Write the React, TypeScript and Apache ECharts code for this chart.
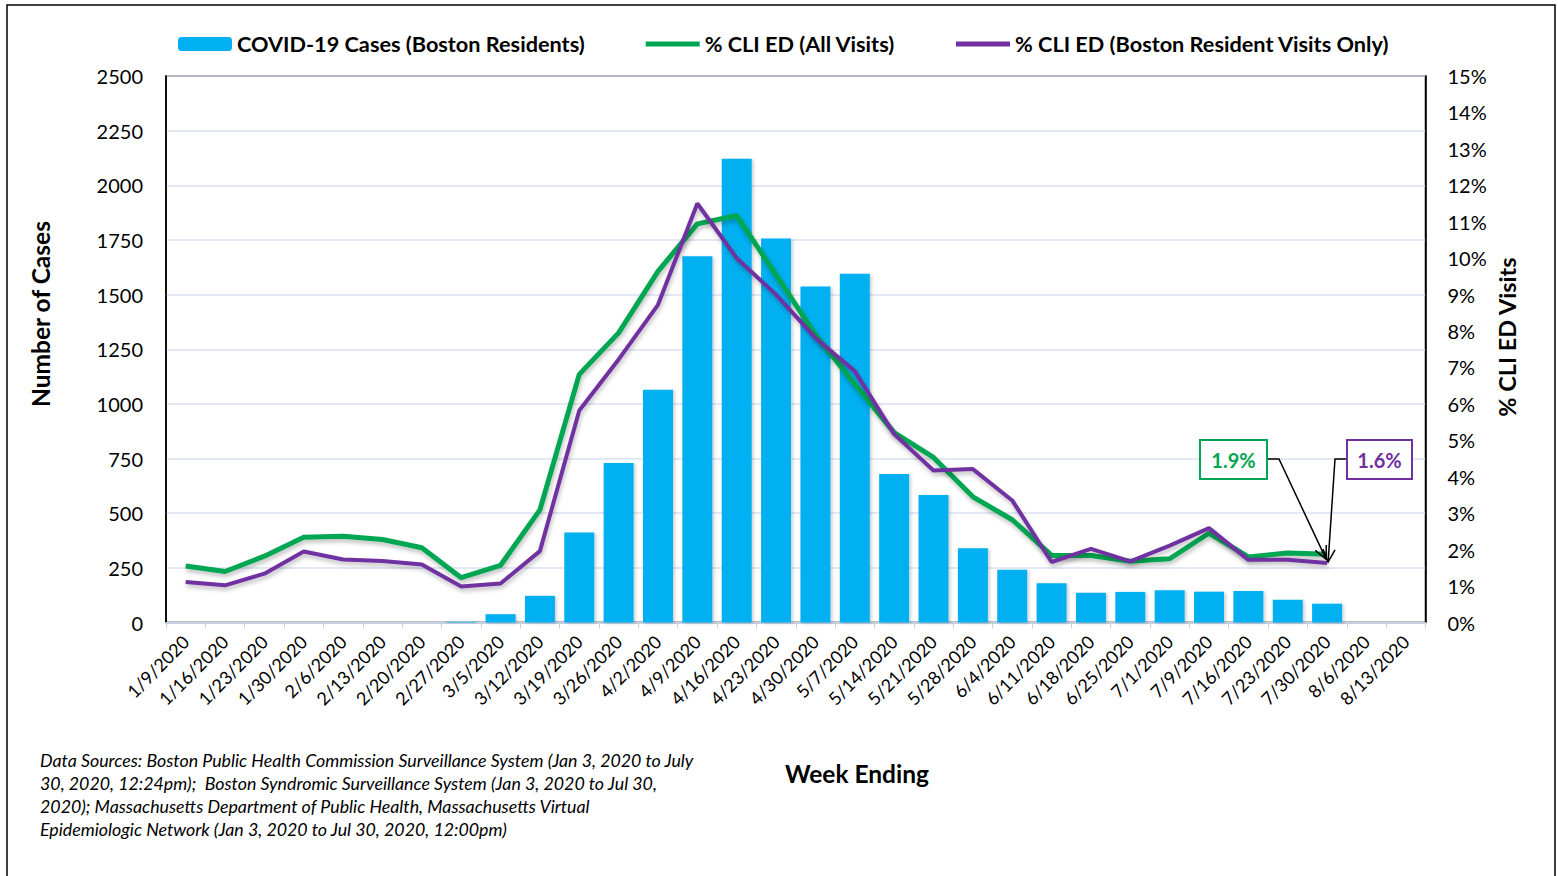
import React, { useEffect, useRef } from "react";
import * as echarts from "echarts";

const categories = [
  "1/9/2020", "1/16/2020", "1/23/2020", "1/30/2020", "2/6/2020", "2/13/2020", "2/20/2020", "2/27/2020",
  "3/5/2020", "3/12/2020", "3/19/2020", "3/26/2020", "4/2/2020", "4/9/2020", "4/16/2020", "4/23/2020",
  "4/30/2020", "5/7/2020", "5/14/2020", "5/21/2020", "5/28/2020", "6/4/2020", "6/11/2020", "6/18/2020",
  "6/25/2020", "7/1/2020", "7/9/2020", "7/16/2020", "7/23/2020", "7/30/2020", "8/6/2020", "8/13/2020",
];

const cases = [
  0, 0, 0, 0, 0, 0, 0, 3, 38, 122, 412, 730, 1065, 1675, 2122, 1757,
  1537, 1595, 679, 583, 340, 241, 179, 136, 140, 147, 141, 144, 104, 86, null, null,
];

const cliAll = [
  1.55, 1.4, 1.82, 2.34, 2.37, 2.28, 2.05, 1.23, 1.57, 3.09, 6.81, 7.95, 9.64, 10.94, 11.17, 9.54,
  7.9, 6.54, 5.21, 4.53, 3.45, 2.82, 1.84, 1.84, 1.68, 1.75, 2.45, 1.8, 1.91, 1.87, null, null,
];

const cliBoston = [
  1.11, 1.02, 1.34, 1.95, 1.73, 1.69, 1.59, 0.99, 1.07, 1.96, 5.82, 7.22, 8.72, 11.5, 10.0, 9.0,
  7.81, 6.9, 5.17, 4.17, 4.21, 3.35, 1.66, 2.02, 1.68, 2.11, 2.59, 1.72, 1.72, 1.63, null, null,
];

const seriesNames = [
  "COVID-19 Cases (Boston Residents)",
  "% CLI ED (All Visits)",
  "% CLI ED (Boston Resident Visits Only)",
];

const annotationAll = "1.9%";
const annotationBoston = "1.6%";

const sourceLines = [
  "Data Sources: Boston Public Health Commission Surveillance System (Jan 3, 2020 to July",
  "30, 2020, 12:24pm);  Boston Syndromic Surveillance System (Jan 3, 2020 to Jul 30,",
  "2020); Massachusetts Department of Public Health, Massachusetts Virtual",
  "Epidemiologic Network (Jan 3, 2020 to Jul 30, 2020, 12:00pm)",
];

const FONT = "Lato, 'Open Sans', sans-serif";
const BLUE = "#00B0F0";
const GREEN = "#00A651";
const PURPLE = "#7030A0";
const GRID_LINE = "#D9E1F2";
const LINE_ICON = "path://M0,0h54v5H0z";

function arrowHead(x1: number, y1: number, x2: number, y2: number, color: string) {
  const a = Math.atan2(y2 - y1, x2 - x1);
  const L = 14;
  const s = 0.45;
  return {
    type: "polyline",
    shape: {
      points: [
        [x2 - L * Math.cos(a - s), y2 - L * Math.sin(a - s)],
        [x2, y2],
        [x2 - L * Math.cos(a + s), y2 - L * Math.sin(a + s)],
      ],
    },
    style: { stroke: color, lineWidth: 1.5, fill: "none" },
    z: 100,
  };
}

export default function App() {
  const ref = useRef<HTMLDivElement>(null);

  useEffect(() => {
    if (!ref.current) return;
    const chart = echarts.init(ref.current, null, { renderer: "svg" });

    const lineShadow = {
      shadowColor: "rgba(0,0,0,0.25)",
      shadowBlur: 4,
      shadowOffsetY: 3,
      shadowOffsetX: 1,
    };

    chart.setOption({
      animation: false,
      backgroundColor: "#ffffff",
      textStyle: { fontFamily: FONT },
      legend: {
        left: 173,
        top: 28,
        itemWidth: 54,
        itemHeight: 14,
        itemGap: 61,
        textStyle: { fontFamily: FONT, fontSize: 21.7, fontWeight: "bold", color: "#000" },
        data: [
          { name: seriesNames[0] },
          { name: seriesNames[1], icon: LINE_ICON },
          { name: seriesNames[2], icon: LINE_ICON },
        ],
      },
      grid: {
        left: 166,
        top: 76,
        width: 1259.5,
        height: 546.5,
        show: true,
        borderColor: "#000",
        borderWidth: 1.5,
        backgroundColor: "transparent",
      },
      xAxis: {
        type: "category",
        data: categories,
        boundaryGap: true,
        axisLine: { show: true, lineStyle: { color: "#C5D0E3", width: 2 } },
        axisTick: { show: true, alignWithLabel: false, length: 6, lineStyle: { color: "#C5D0E3" } },
        axisLabel: {
          interval: 0,
          rotate: 45,
          margin: 16,
          fontSize: 18,
          fontFamily: FONT,
          color: "#000",
        },
        splitLine: { show: false },
      },
      yAxis: [
        {
          type: "value",
          min: 0,
          max: 2500,
          interval: 250,
          axisLine: { show: true, lineStyle: { color: "#000", width: 1.5 } },
          axisTick: { show: false },
          axisLabel: {
            fontSize: 20,
            fontFamily: FONT,
            color: "#000",
            margin: 23,
            formatter: (v: number) => String(v),
          },
          splitLine: { show: true, lineStyle: { color: GRID_LINE, width: 1.5 } },
        },
        {
          type: "value",
          min: 0,
          max: 15,
          interval: 1,
          position: "right",
          axisLine: { show: true, lineStyle: { color: "#000", width: 1.5 } },
          axisTick: { show: false },
          axisLabel: { fontSize: 20, fontFamily: FONT, color: "#000", margin: 22, formatter: "{value}%" },
          splitLine: { show: false },
        },
      ],
      series: [
        {
          name: seriesNames[0],
          type: "bar",
          data: cases,
          yAxisIndex: 0,
          barWidth: 30,
          itemStyle: {
            color: BLUE,
            shadowColor: "rgba(0,0,0,0.18)",
            shadowBlur: 3,
            shadowOffsetX: 2,
            shadowOffsetY: 1,
          },
          z: 2,
        },
        {
          name: seriesNames[1],
          type: "line",
          data: cliAll,
          yAxisIndex: 1,
          symbol: "none",
          showSymbol: false,
          lineStyle: { color: GREEN, width: 5, ...lineShadow },
          itemStyle: { color: GREEN },
          z: 3,
        },
        {
          name: seriesNames[2],
          type: "line",
          data: cliBoston,
          yAxisIndex: 1,
          symbol: "none",
          showSymbol: false,
          lineStyle: { color: PURPLE, width: 4, ...lineShadow },
          itemStyle: { color: PURPLE },
          z: 4,
        },
      ],
    });

    const tip = chart.convertToPixel({ xAxisIndex: 0, yAxisIndex: 1 }, [categories[29], cliBoston[29] as number]) as number[];
    const gTip = [tip[0] - 1, tip[1] - 4];
    const pTip = [tip[0] + 1, tip[1] - 1];

    const graphics: any[] = [
      {
        type: "rect",
        shape: { x: 7, y: 5, width: 1548, height: 900 },
        style: { fill: "none", stroke: "#000", lineWidth: 1.5 },
        silent: true,
        z: 0,
      },
      {
        type: "text",
        x: 40,
        y: 314,
        rotation: Math.PI / 2,
        style: {
          text: "Number of Cases",
          fontFamily: FONT,
          fontSize: 24.5,
          fontWeight: "bold",
          fill: "#000",
          align: "center",
          verticalAlign: "middle",
        },
      },
      {
        type: "text",
        x: 1507,
        y: 337,
        rotation: Math.PI / 2,
        style: {
          text: "% CLI ED Visits",
          fontFamily: FONT,
          fontSize: 23.5,
          fontWeight: "bold",
          fill: "#000",
          align: "center",
          verticalAlign: "middle",
        },
      },
      {
        type: "text",
        x: 857,
        y: 773,
        style: {
          text: "Week Ending",
          fontFamily: FONT,
          fontSize: 24.5,
          fontWeight: "bold",
          fill: "#000",
          align: "center",
          verticalAlign: "middle",
        },
      },
      {
        type: "text",
        x: 40,
        y: 748,
        style: {
          text: sourceLines.join("\n"),
          fontFamily: FONT,
          fontSize: 17.8,
          fontStyle: "italic",
          lineHeight: 23,
          fill: "#000",
          align: "left",
          verticalAlign: "top",
        },
      },
      // green annotation
      {
        type: "rect",
        shape: { x: 1200, y: 440, width: 67, height: 39 },
        style: { fill: "#fff", stroke: GREEN, lineWidth: 2 },
        z: 100,
      },
      {
        type: "text",
        x: 1233.5,
        y: 460,
        style: {
          text: annotationAll,
          fontFamily: FONT,
          fontSize: 20,
          fontWeight: "bold",
          fill: GREEN,
          align: "center",
          verticalAlign: "middle",
        },
        z: 101,
      },
      {
        type: "polyline",
        shape: { points: [[1268, 459], [1279, 459], gTip] },
        style: { stroke: "#000", lineWidth: 1.5, fill: "none" },
        z: 100,
      },
      arrowHead(1279, 459, gTip[0], gTip[1], "#000"),
      // purple annotation
      {
        type: "rect",
        shape: { x: 1347, y: 440, width: 65, height: 39 },
        style: { fill: "#fff", stroke: PURPLE, lineWidth: 2 },
        z: 100,
      },
      {
        type: "text",
        x: 1379.5,
        y: 460,
        style: {
          text: annotationBoston,
          fontFamily: FONT,
          fontSize: 20,
          fontWeight: "bold",
          fill: PURPLE,
          align: "center",
          verticalAlign: "middle",
        },
        z: 101,
      },
      {
        type: "polyline",
        shape: { points: [[1346, 459], [1335, 459], pTip] },
        style: { stroke: "#000", lineWidth: 1.5, fill: "none" },
        z: 100,
      },
      arrowHead(1335, 459, pTip[0], pTip[1], "#000"),
    ];

    chart.setOption({ graphic: graphics });

    return () => {
      chart.dispose();
    };
  }, []);

  return (
    <div
      ref={ref}
      style={{ position: "fixed", left: 0, top: 0, width: 1558, height: 876, background: "#fff" }}
    />
  );
}
